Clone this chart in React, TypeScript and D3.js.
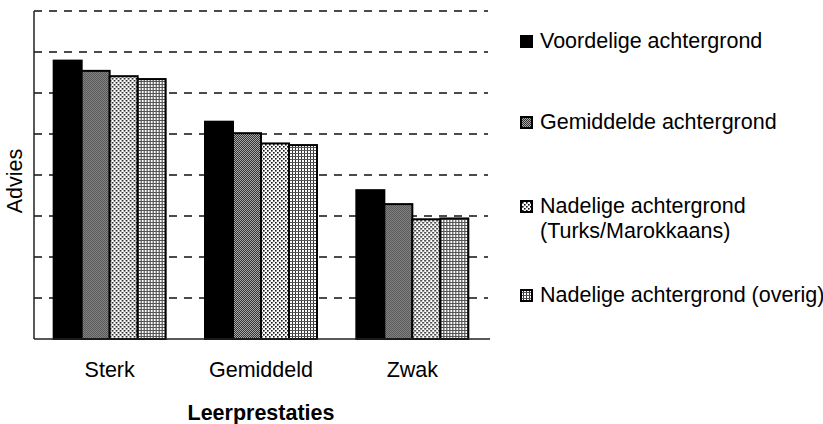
import { useEffect, useRef } from 'react';
import * as d3 from 'd3';

const categories = ['Sterk', 'Gemiddeld', 'Zwak'];
const seriesNames = [
  'Voordelige achtergrond',
  'Gemiddelde achtergrond',
  'Nadelige achtergrond (Turks/Marokkaans)',
  'Nadelige achtergrond (overig)',
];
const voordelig = [6.79, 5.3, 3.63];
const gemiddeld = [6.54, 5.02, 3.29];
const turksMarokkaans = [6.41, 4.77, 2.92];
const overig = [6.34, 4.73, 2.94];
const legendLines = [
  ['Voordelige achtergrond'],
  ['Gemiddelde achtergrond'],
  ['Nadelige achtergrond', '(Turks/Marokkaans)'],
  ['Nadelige achtergrond (overig)'],
];

const seriesValues = [voordelig, gemiddeld, turksMarokkaans, overig];
const fills = ['#000', 'url(#pGray)', 'url(#pDots)', 'url(#pGrid)'];

function App() {
  const ref = useRef<SVGSVGElement>(null);
  const width = 823;
  const height = 424;
  const left = 34;
  const right = 488;
  const top = 11;
  const bottom = 339;
  const font = '"Liberation Sans", Arial, sans-serif';
  const fontSize = 21.5;

  useEffect(() => {
    const svg = d3.select(ref.current);
    svg.selectAll('*').remove();

    const defs = svg.append('defs');
    const gray = defs.append('pattern').attr('id', 'pGray')
      .attr('patternUnits', 'userSpaceOnUse').attr('width', 2).attr('height', 2);
    gray.append('rect').attr('width', 2).attr('height', 2).attr('fill', '#a8a8a8');
    gray.append('rect').attr('width', 1).attr('height', 1).attr('fill', '#333');
    gray.append('rect').attr('x', 1).attr('y', 1).attr('width', 1).attr('height', 1).attr('fill', '#333');

    const dots = defs.append('pattern').attr('id', 'pDots')
      .attr('patternUnits', 'userSpaceOnUse').attr('width', 4).attr('height', 4);
    dots.append('rect').attr('width', 4).attr('height', 4).attr('fill', '#fff');
    dots.append('rect').attr('width', 1.6).attr('height', 1.6).attr('fill', '#111');
    dots.append('rect').attr('x', 2).attr('y', 2).attr('width', 1.6).attr('height', 1.6).attr('fill', '#111');

    const grid = defs.append('pattern').attr('id', 'pGrid')
      .attr('patternUnits', 'userSpaceOnUse').attr('width', 3).attr('height', 3);
    grid.append('rect').attr('width', 3).attr('height', 3).attr('fill', '#fff');
    grid.append('rect').attr('width', 1).attr('height', 3).attr('fill', '#333');
    grid.append('rect').attr('width', 3).attr('height', 1).attr('fill', '#555');

    const x0 = d3.scaleBand()
      .domain(categories)
      .range([left, right])
      .paddingInner(0.26)
      .paddingOuter(0.13);

    const x1 = d3.scaleBand()
      .domain(seriesNames)
      .range([0, x0.bandwidth()]);

    const y = d3.scaleLinear()
      .domain([0, 8])
      .range([bottom, top]);

    // dashed gridlines
    svg.append('g')
      .selectAll('line')
      .data(y.ticks(8).filter((d) => d > 0))
      .enter()
      .append('line')
      .attr('x1', left)
      .attr('x2', right)
      .attr('y1', (d) => y(d))
      .attr('y2', (d) => y(d))
      .attr('stroke', '#111')
      .attr('stroke-width', 1.5)
      .attr('stroke-dasharray', '8,7');

    // bars
    const groups = svg.append('g')
      .selectAll('g')
      .data(categories)
      .enter()
      .append('g')
      .attr('transform', (d) => `translate(${x0(d)}, 0)`);

    groups.selectAll('rect')
      .data((d, i) => seriesNames.map((s, j) => ({ s, j, v: seriesValues[j][i] })))
      .enter()
      .append('rect')
      .attr('x', (d) => x1(d.s))
      .attr('y', (d) => y(d.v))
      .attr('width', x1.bandwidth())
      .attr('height', (d) => y(0) - y(d.v))
      .attr('fill', (d) => fills[d.j])
      .attr('stroke', '#000')
      .attr('stroke-width', 2);

    // axes
    svg.append('line')
      .attr('x1', left).attr('x2', left)
      .attr('y1', top).attr('y2', bottom)
      .attr('stroke', '#222').attr('stroke-width', 1.5);
    svg.append('line')
      .attr('x1', left).attr('x2', right + 2)
      .attr('y1', bottom).attr('y2', bottom)
      .attr('stroke', '#222').attr('stroke-width', 1.5);

    svg.append('g')
      .selectAll('text')
      .data(categories)
      .enter()
      .append('text')
      .attr('x', (d) => x0(d) + x0.bandwidth() / 2)
      .attr('y', 377)
      .attr('text-anchor', 'middle')
      .attr('font-family', font)
      .attr('font-size', fontSize)
      .text((d) => d);

    svg.append('text')
      .attr('x', (left + right) / 2)
      .attr('y', 420)
      .attr('text-anchor', 'middle')
      .attr('font-family', font)
      .attr('font-size', fontSize)
      .attr('font-weight', 'bold')
      .text('Leerprestaties');

    svg.append('text')
      .attr('transform', 'translate(22, 181) rotate(-90)')
      .attr('text-anchor', 'middle')
      .attr('font-family', font)
      .attr('font-size', fontSize)
      .text('Advies');

    // legend
    const legendTops = [35, 116, 200, 289];
    const legend = svg.append('g')
      .selectAll('g')
      .data(legendLines)
      .enter()
      .append('g')
      .attr('transform', (d, i) => `translate(520, ${legendTops[i]})`);

    legend.append('rect')
      .attr('x', 1).attr('y', 1)
      .attr('width', 11).attr('height', 11)
      .attr('fill', (d, i) => fills[i])
      .attr('stroke', '#000')
      .attr('stroke-width', 2);

    legend.each(function (lines) {
      const g = d3.select(this);
      lines.forEach((line, k) => {
        g.append('text')
          .attr('x', 20)
          .attr('y', 12.5 + k * 25)
          .attr('font-family', font)
          .attr('font-size', fontSize)
          .text(line);
      });
    });
  }, []);

  return (
    <svg
      ref={ref}
      width={width}
      height={height}
      style={{ position: 'absolute', left: 0, top: 0, background: '#fff' }}
    />
  );
}

export default App;
